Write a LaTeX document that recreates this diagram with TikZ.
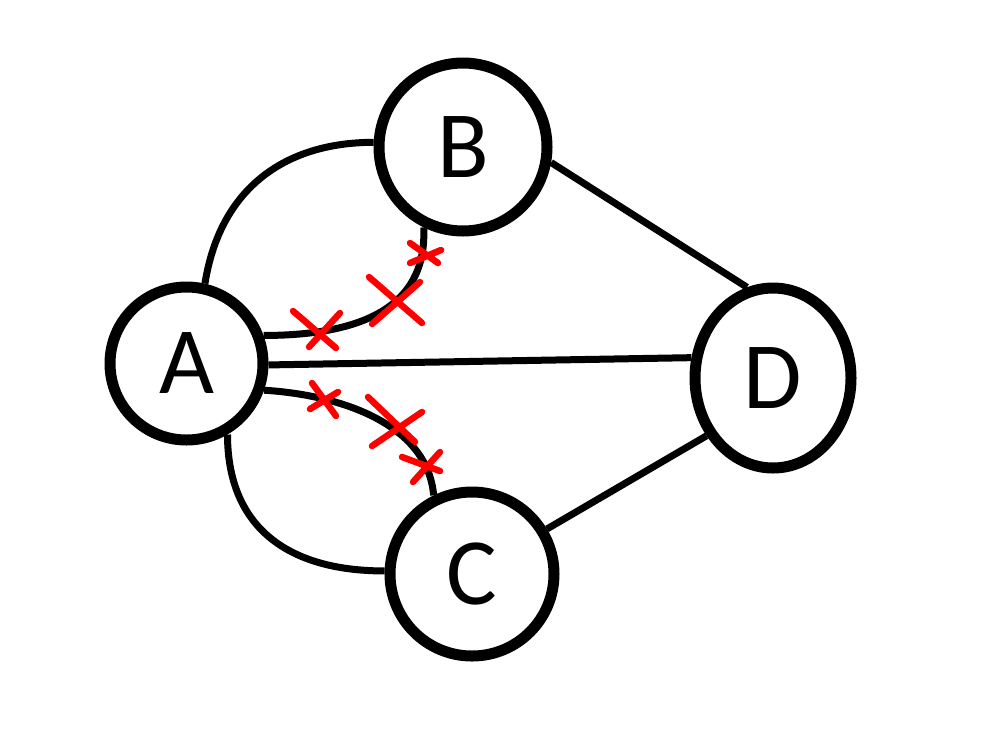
\documentclass[tikz,border=0pt]{standalone}
\usepackage{fontspec}
\setmainfont{Carlito}
\usetikzlibrary{shapes.geometric,positioning}

\begin{document}
\begin{tikzpicture}[x=1pt,y=-1pt,
  vertex/.style={draw,circle,line width=11pt,inner sep=0pt,font=\fontsize{95}{95}\selectfont},
  link/.style={line width=7pt},
  cut/.style={draw=red,line width=6.5pt,line cap=round}]

        \useasboundingbox (0,0) rectangle (1000,750);

        \node[vertex,minimum size=153pt] (A) at (186.5,363.5) {A};
        \node[vertex,minimum size=168pt] (B) at (463,147) {B};
        \node[vertex,minimum size=164pt] (C) at (472,574) {C};
        \node[vertex,ellipse,minimum width=156pt,minimum height=180pt] (D) at (773,378) {D};

        \draw[link] (A.77) .. controls +(15,-95) and +(-89,0) .. (B.177);
        \draw[link] (A.20) .. controls +(140,0) and +(2,50) .. (B.244);
        \draw[link] (A.-1) -- (D.166);
        \draw[link] (A.-19) .. controls +(80,5) and +(-6,-70) .. (C.116);
        \draw[link] (A.-60) .. controls +(0,90) and +(-100,0) .. (C.178);
        \draw[link] (B.-10) -- (D.106);
        \draw[link] (C.31) -- (D.221);

        % red crosses
        \draw[cut] (293,311) -- (336,348) (340,313) -- (309,347);
        \draw[cut] (369,277) -- (422,323) (420,282) -- (372,324);
        \draw[cut] (410,243) -- (438,263) (441,250) -- (410,263);
        \draw[cut] (312,383) -- (336,416) (338,392) -- (310,409);
        \draw[cut] (368,397) -- (415,442) (422,412) -- (372,446);
        \draw[cut] (402,457) -- (440,471) (440,452) -- (413,482);
\end{tikzpicture}
\end{document}
